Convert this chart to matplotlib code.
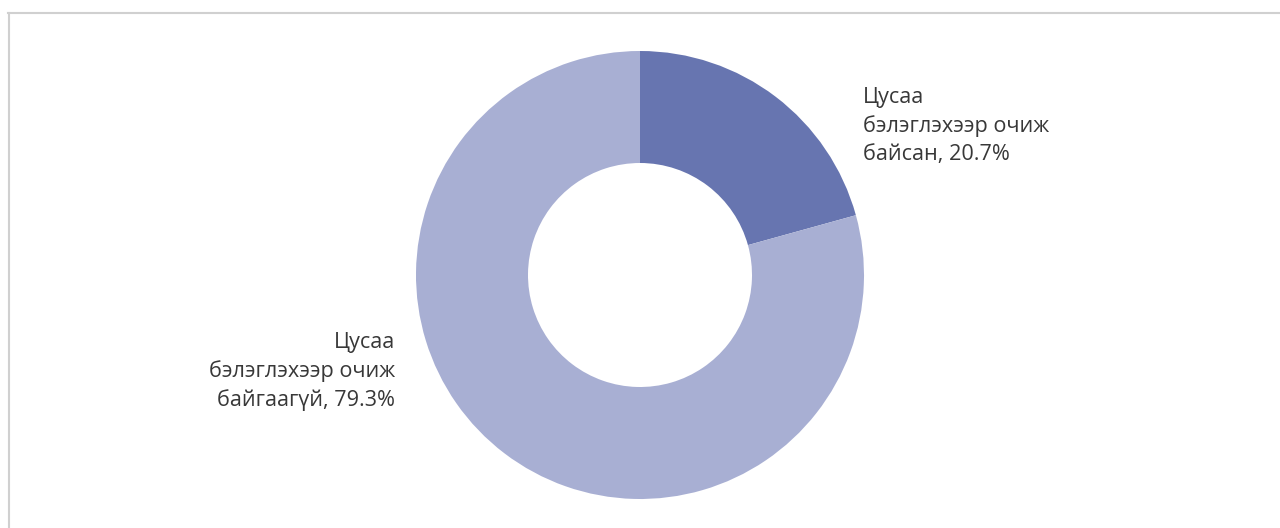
import matplotlib
matplotlib.use("Agg")
import matplotlib.pyplot as plt
from matplotlib.lines import Line2D

labels = ["Цусаа\nбэлэглэхээр очиж\nбайсан, 20.7%",
          "Цусаа\nбэлэглэхээр очиж\nбайгаагүй, 79.3%"]
values = [20.7, 79.3]
colors = ["#6775B0", "#A8AFD3"]

plt.rcParams['font.family'] = ['Open Sans', 'DejaVu Sans']

W, H = 1280, 528
fig = plt.figure(figsize=(W / 100, H / 100), dpi=100)
cx, cy, r = 640, 275, 224
ax = fig.add_axes([(cx - r) / W, (H - cy - r) / H, 2 * r / W, 2 * r / H])
ax.pie(values, colors=colors, startangle=90, counterclock=False, radius=1,
       wedgeprops=dict(width=0.5, linewidth=0))
ax.set_xlim(-1, 1)
ax.set_ylim(-1, 1)
ax.axis('off')

def px2d(px, py):
    return (px - cx) / r, (cy - py) / r

x, y = px2d(863, 87)
ax.text(x, y, labels[0], ha='left', va='top', fontsize=15.6, color='#383838',
        linespacing=1.42, clip_on=False)
x, y = px2d(395, 411)
ax.text(x, y, labels[1], ha='right', va='bottom', fontsize=15.6, color='#383838',
        linespacing=1.42, multialignment='right', clip_on=False)

fig.add_artist(Line2D([8 / W, 1], [1 - 12.5 / H, 1 - 12.5 / H], transform=fig.transFigure,
                      color='#d0d0d0', linewidth=1.5))
fig.add_artist(Line2D([8.5 / W, 8.5 / W], [0, 1 - 12.5 / H], transform=fig.transFigure,
                      color='#d0d0d0', linewidth=1.5))

fig.savefig("out.png", dpi=100)
